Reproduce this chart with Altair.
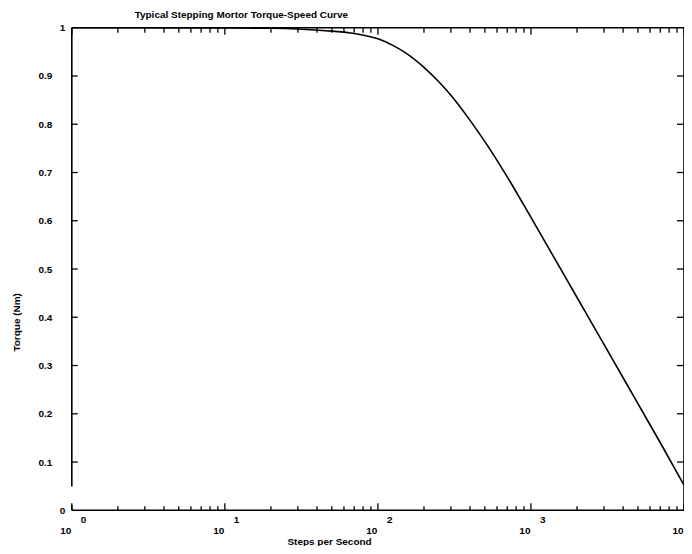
import altair as alt
import pandas as pd

# ---- data ----
steps = [1, 10, 20, 32, 50, 70, 85, 100, 112, 126, 150, 200, 250, 300, 400, 500, 700, 1000,
         2000, 3000, 5000, 7000, 10000]
torque = [1.0, 0.9995, 0.999, 0.997, 0.993, 0.988, 0.983, 0.977, 0.971, 0.963, 0.949, 0.918, 0.888, 0.860,
          0.808, 0.764, 0.691, 0.607, 0.441, 0.344, 0.221, 0.140, 0.052]

major_x = [1, 10, 100, 1000, 10000]
exp_x = [1, 10, 100, 1000]
exponents = ["0", "1", "2", "3"]
minor_x = [2, 3, 4, 5, 6, 7, 8, 9,
           20, 30, 40, 50, 60, 70, 80, 90,
           200, 300, 400, 500, 600, 700, 800, 900,
           2000, 3000, 4000, 5000, 6000, 7000, 8000, 9000]
y_ticks = [0.1, 0.2, 0.3, 0.4, 0.5, 0.6, 0.7, 0.8, 0.9]
y_labels = [0, 0.1, 0.2, 0.3, 0.4, 0.5, 0.6, 0.7, 0.8, 0.9, 1]

W, H = 614, 484
FONT = "Liberation Sans"

curve_df = pd.DataFrame({"steps": steps, "torque": torque})
major_df = pd.DataFrame({"steps": major_x})
exp_df = pd.DataFrame({"steps": exp_x, "e": exponents})
minor_df = pd.DataFrame({"steps": minor_x})
yt_df = pd.DataFrame({"torque": y_ticks})

xscale = alt.Scale(type="log", domain=[1, 10000], nice=False)
yscale = alt.Scale(domain=[0, 1], nice=False, zero=False)

curve = alt.Chart(curve_df).mark_line(color="black", strokeWidth=1.6, interpolate="monotone").encode(
    x=alt.X("steps:Q", scale=xscale,
            axis=alt.Axis(values=major_x, labelExpr="'10'", labelAlign="right", labelBaseline="top",
                          labelPadding=15, labelOffset=-1, labelFont=FONT, labelFontSize=10,
                          labelFontWeight="bold", labelColor="black", labelOverlap=False, labelBound=False,
                          labelFlush=False, domain=False, ticks=False, grid=False,
                          title="Steps per Second", titleFont=FONT, titleFontSize=10, titleFontWeight="bold",
                          titleColor="black", titleX=258, titleY=34, titleBaseline="alphabetic",
                          titleAlign="center")),
    y=alt.Y("torque:Q", scale=yscale,
            axis=alt.Axis(values=y_labels, labelFont=FONT, labelFontSize=10, labelFontWeight="bold",
                          labelColor="black", labelOverlap=False, labelBound=False, labelFlush=False,
                          labelExpr="datum.value == 0 ? '0' : datum.value == 1 ? '1' : format(datum.value, '.1f')",
                          labelPadding={"condition": {"test": "datum.value == 1 || datum.value == 0", "value": 7}, "value": 20},
                          domain=False, ticks=False, grid=False,
                          title="Torque (Nm)", titleFont=FONT, titleFontSize=10, titleFontWeight="bold",
                          titleColor="black", titleX=-55, titleY=295, titleAngle=-90,
                          titleAlign="center", titleBaseline="middle")),
)

xa = alt.X("steps:Q", scale=xscale)
ya = alt.Y("torque:Q", scale=yscale)

rule_style = dict(color="black", strokeWidth=1.3)

major_bottom = alt.Chart(major_df).mark_rule(**rule_style).encode(x=xa, y=alt.value(H), y2=alt.value(H - 7))
major_top = alt.Chart(major_df).mark_rule(**rule_style).encode(x=xa, y=alt.value(0), y2=alt.value(7))
minor_bottom = alt.Chart(minor_df).mark_rule(**rule_style).encode(x=xa, y=alt.value(H), y2=alt.value(H - 4))
minor_top = alt.Chart(minor_df).mark_rule(**rule_style).encode(x=xa, y=alt.value(0), y2=alt.value(5))
ytick_left = alt.Chart(yt_df).mark_rule(**rule_style).encode(y=ya, x=alt.value(0), x2=alt.value(6))
ytick_right = alt.Chart(yt_df).mark_rule(**rule_style).encode(y=ya, x=alt.value(W), x2=alt.value(W - 7))

exps = alt.Chart(exp_df).mark_text(align="left", baseline="top", dx=9, font=FONT, fontSize=10,
                                   fontWeight="bold", color="black").encode(
    x=xa, y=alt.value(H + 5), text="e:N")

one = alt.Data(values=[{}])
border_style = dict(color="black", strokeWidth=1.6)
top_b = alt.Chart(one).mark_rule(**border_style).encode(x=alt.value(0), x2=alt.value(W), y=alt.value(0))
bot_b = alt.Chart(one).mark_rule(**border_style).encode(x=alt.value(0), x2=alt.value(W), y=alt.value(H))
left_b = alt.Chart(one).mark_rule(**border_style).encode(x=alt.value(0), y=alt.value(0), y2=alt.value(460))
right_b = alt.Chart(one).mark_rule(**border_style).encode(x=alt.value(W), y=alt.value(0), y2=alt.value(H))
stub_b = alt.Chart(one).mark_rule(**border_style).encode(x=alt.value(0), y=alt.value(H - 5), y2=alt.value(H))

chart = alt.layer(
    curve, major_bottom, major_top, minor_bottom, minor_top, ytick_left, ytick_right, exps,
    top_b, bot_b, left_b, right_b, stub_b
).properties(
    width=W, height=H,
    title=alt.TitleParams("Typical Stepping Mortor Torque-Speed Curve", anchor="start", frame="group",
                          dx=63, offset=3,
                          font=FONT, fontSize=10, fontWeight="bold", color="black"),
    autosize=alt.AutoSizeParams(type="none"),
    padding={"left": 64, "top": 19, "right": 0, "bottom": 35},
    background="white",
).configure_view(stroke=None)

chart.save("out.html", embed_options={"renderer": "svg", "actions": False})
